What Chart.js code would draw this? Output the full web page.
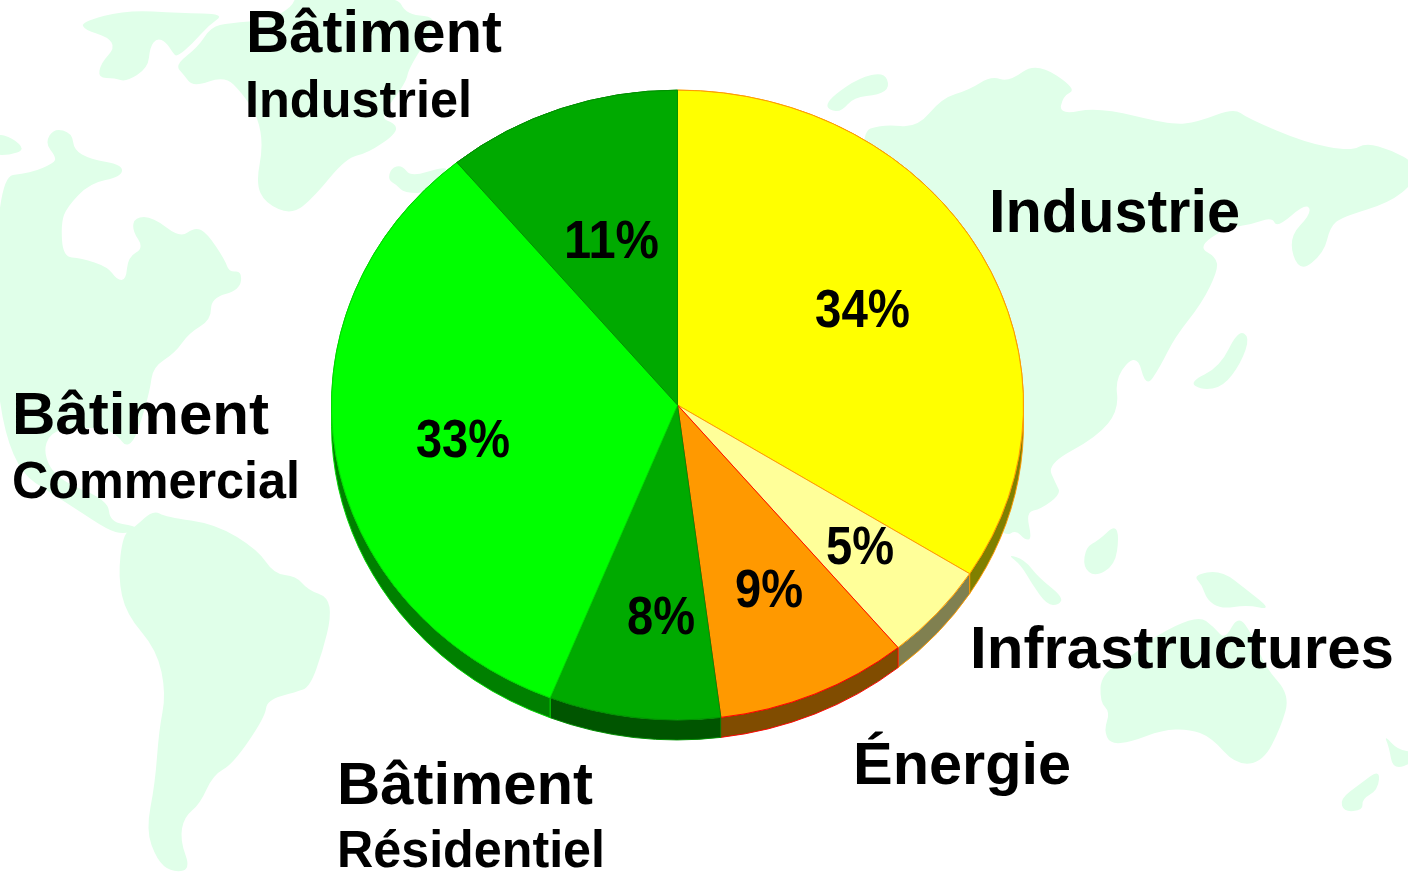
<!DOCTYPE html>
<html>
<head>
<meta charset="utf-8">
<title>Bâtiment, industrie, énergie</title>
<script src="https://cdn.jsdelivr.net/npm/chart.js@4/dist/chart.umd.min.js"></script>
<style>
  html, body { margin: 0; padding: 0; background: #fff; }
  canvas { display: block; }
</style>
</head>
<body>
<canvas id="pieChart" width="1408" height="875"></canvas>
<script>
// Chart values, clockwise from 12 o'clock
const categories = ['Industrie', 'Infrastructures', 'Énergie', 'Bâtiment Résidentiel', 'Bâtiment Commercial', 'Bâtiment Industriel'];
const shares = [34, 5, 9, 8, 33, 11];

const sliceColors = ['#ffff00', '#ffff99', '#ff9900', '#00aa00', '#00ff00', '#00aa00'];
const edgeColors = ['#ff9900', '#ff9900', '#ff0000', '#009000', '#00d800', '#009000'];
const sideColors = ['#808000', '#808050', '#804c00', '#005500', '#008000', '#005500'];

// Hand placed text: text, left, baseline, font size, width
const categoryLabels = [
  ['Bâtiment', 246, 52, 59, 256],
  ['Industriel', 245, 117, 52, 227],
  ['Industrie', 989, 232, 61, 251],
  ['Bâtiment', 12, 434, 59, 257],
  ['Commercial', 12, 498, 52, 288],
  ['Bâtiment', 337, 804, 59, 256],
  ['Résidentiel', 337, 867, 52, 268],
  ['Infrastructures', 970, 668, 59, 424],
  ['Énergie', 853, 784, 59, 218]
];
// Left, baseline, width of each share label, same order as shares
const shareLabelSpots = [
  [815, 327, 95],
  [826, 564, 68],
  [735, 607, 68],
  [627, 634, 68],
  [416, 457, 94],
  [564, 258, 95]
];

const SQUASH = 0.91;
const DEPTH = 20;

// Pale world map behind the pie
const mapColor = '#e0ffe9';
const landShapes = [
  [[81,22],[126,10],[180,13],[225,14],[209,25],[193,43],[177,57],[173,53],[166,42],[157,38],[150,47],[148,68],[126,82],[115,78],[98,78],[101,63],[115,48],[108,37],[85,30]],
  [[229,23],[211,27],[198,47],[175,65],[184,75],[193,87],[225,76],[242,93],[258,117],[263,147],[256,183],[265,203],[292,215],[314,197],[346,158],[368,153],[397,133],[395,123],[379,118],[406,83],[409,67],[442,17],[406,15],[397,-5],[296,-5],[292,7],[269,20]],
  [[-5,133],[13,138],[25,150],[9,155],[-5,155]],
  [[-5,177],[31,173],[54,163],[56,157],[45,143],[54,128],[72,133],[74,150],[90,159],[123,165],[121,177],[90,183],[67,207],[61,223],[63,257],[81,258],[108,267],[117,280],[126,280],[128,257],[144,248],[132,230],[135,217],[153,217],[180,238],[195,227],[207,233],[225,260],[229,272],[242,271],[240,290],[211,298],[211,320],[189,333],[175,353],[153,367],[150,390],[140,425],[133,442],[125,446],[119,437],[105,428],[75,428],[50,432],[43,454],[58,480],[108,500],[110,522],[135,526],[137,530],[123,534],[108,530],[76,509],[-5,457]],
  [[153,510],[166,517],[216,524],[258,550],[274,574],[296,576],[308,590],[328,597],[331,617],[323,650],[310,687],[296,692],[267,700],[265,717],[233,764],[213,775],[200,804],[184,817],[180,840],[191,870],[171,872],[157,860],[146,830],[155,784],[159,730],[166,694],[157,650],[126,614],[118,577],[123,534],[135,527]],
  [[388,180],[391,168],[402,165],[411,177],[442,167],[449,170],[431,193],[404,193],[397,185]],
  [[857,133],[884,124],[917,128],[942,98],[969,90],[991,76],[1009,82],[1036,62],[1077,89],[1063,96],[1059,115],[1099,107],[1171,125],[1198,122],[1234,108],[1247,118],[1306,143],[1351,151],[1366,143],[1391,150],[1415,163],[1415,182],[1389,203],[1342,217],[1330,227],[1324,253],[1299,273],[1288,238],[1312,213],[1306,203],[1277,228],[1272,217],[1250,225],[1225,228],[1198,247],[1216,257],[1218,270],[1202,303],[1175,337],[1160,367],[1146,388],[1137,353],[1115,377],[1119,410],[1097,437],[1047,464],[1056,484],[1061,494],[1041,509],[1026,512],[1032,539],[1025,540],[1016,530],[1005,537],[950,500],[880,300]],
  [[826,105],[834,95],[859,78],[884,72],[890,87],[879,95],[854,97],[841,112],[830,110]],
  [[1238,330],[1250,337],[1241,363],[1223,387],[1202,390],[1189,382],[1220,367]],
  [[1115,525],[1119,537],[1115,565],[1095,577],[1083,567],[1086,547],[1099,540]],
  [[1007,554],[1025,560],[1038,577],[1063,597],[1059,605],[1047,605],[1032,584],[1021,565]],
  [[1193,575],[1221,570],[1247,590],[1272,610],[1247,605],[1221,609],[1207,600],[1202,585]],
  [[1198,615],[1214,627],[1225,640],[1238,615],[1252,634],[1265,667],[1290,695],[1281,727],[1263,762],[1236,765],[1211,737],[1189,729],[1162,730],[1131,742],[1110,744],[1104,730],[1110,712],[1100,702],[1101,674],[1135,654],[1153,637]],
  [[1384,735],[1398,750],[1415,752],[1415,762],[1393,770],[1389,747]],
  [[1380,769],[1378,790],[1362,799],[1363,810],[1344,812],[1340,799],[1360,784]]
];

function drawLand(ctx, pts) {
  ctx.beginPath();
  let last = pts[pts.length - 1];
  ctx.moveTo((last[0] + pts[0][0]) / 2, (last[1] + pts[0][1]) / 2);
  for (let i = 0; i < pts.length; i++) {
    const next = pts[(i + 1) % pts.length];
    ctx.quadraticCurveTo(pts[i][0], pts[i][1], (pts[i][0] + next[0]) / 2, (pts[i][1] + next[1]) / 2);
  }
  ctx.closePath();
  ctx.fill();
}

// Text stretched to the width measured on the picture
function drawFitted(ctx, text, x, y, size, width) {
  ctx.font = 'bold ' + size + 'px "Liberation Sans"';
  const sx = width / ctx.measureText(text).width;
  ctx.save();
  ctx.translate(x, y);
  ctx.scale(sx, 1);
  ctx.fillText(text, 0, 0);
  ctx.restore();
}

const worldMap = {
  id: 'worldMap',
  beforeDraw(chart) {
    const ctx = chart.ctx;
    ctx.save();
    ctx.fillStyle = '#ffffff';
    ctx.fillRect(0, 0, chart.width, chart.height);
    ctx.fillStyle = mapColor;
    landShapes.forEach(shape => drawLand(ctx, shape));
    ctx.restore();
  }
};

// Flattens the pie into an ellipse and paints the rim under it
const tiltedPie = {
  id: 'tiltedPie',
  beforeDatasetsDraw(chart) {
    const ctx = chart.ctx;
    const arcs = chart.getDatasetMeta(0).data;
    const cx = arcs[0].x;
    const cy = arcs[0].y;
    ctx.save();
    ctx.translate(cx, cy);
    ctx.scale(1, SQUASH);
    ctx.translate(-cx, -cy);
    const drop = DEPTH / SQUASH;
    arcs.forEach((arc, i) => {
      ctx.beginPath();
      ctx.arc(cx, cy, arc.outerRadius, arc.startAngle, arc.endAngle);
      ctx.arc(cx, cy + drop, arc.outerRadius, arc.endAngle, arc.startAngle, true);
      ctx.closePath();
      ctx.fillStyle = sideColors[i];
      ctx.fill();
      ctx.strokeStyle = edgeColors[i];
      ctx.lineWidth = 1;
      ctx.stroke();
    });
  },
  afterDatasetsDraw(chart) {
    chart.ctx.restore();
  }
};

const pieText = {
  id: 'pieText',
  afterDraw(chart) {
    const ctx = chart.ctx;
    ctx.save();
    ctx.fillStyle = '#000000';
    ctx.textBaseline = 'alphabetic';
    ctx.textAlign = 'left';
    categoryLabels.forEach(l => drawFitted(ctx, l[0], l[1], l[2], l[3], l[4]));
    shares.forEach((share, i) => {
      const spot = shareLabelSpots[i];
      drawFitted(ctx, share + '%', spot[0], spot[1], 54, spot[2]);
    });
    ctx.restore();
  }
};

new Chart(document.getElementById('pieChart').getContext('2d'), {
  type: 'pie',
  data: {
    labels: categories,
    datasets: [{
      data: shares,
      backgroundColor: sliceColors,
      borderColor: edgeColors,
      borderWidth: 1,
      clip: false,
      radius: 346
    }]
  },
  options: {
    responsive: false,
    animation: false,
    layout: { padding: { left: 0, right: 53, top: 0, bottom: 65 } },
    plugins: {
      legend: { display: false },
      tooltip: { enabled: false }
    }
  },
  plugins: [worldMap, tiltedPie, pieText]
});
</script>
</body>
</html>
